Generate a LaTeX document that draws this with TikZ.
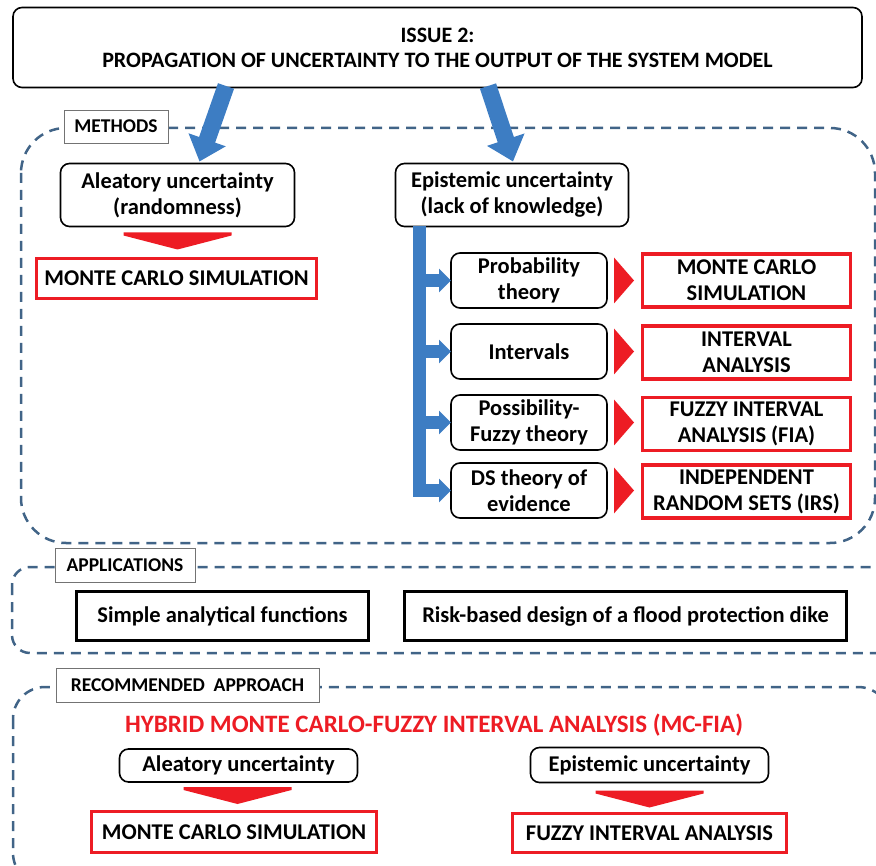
\documentclass[tikz,border=0pt]{standalone}
\usepackage{fontspec}
\setmainfont{Carlito}
\usetikzlibrary{arrows.meta,calc}
\definecolor{bluearr}{RGB}{61,125,195}
\definecolor{dashblue}{RGB}{65,100,135}
\definecolor{mcred}{RGB}{237,28,36}

\begin{document}
\begin{tikzpicture}[x=1pt, y=-1pt, font=\bfseries\fontsize{22.5}{26}\selectfont,
	every node/.style={align=center, inner sep=0pt, outer sep=0pt},
	rbox/.style={draw, rounded corners=9pt, line width=1.6pt, fill=white},
	redbox/.style={draw=mcred, line width=3.5pt, fill=white},
	appbox/.style={draw, line width=3.5pt, fill=white},
	lbl/.style={draw=black!55, line width=0.8pt, fill=white, font=\bfseries\fontsize{19.5}{22}\selectfont},
	dashframe/.style={draw=dashblue, line width=2.5pt, dash pattern=on 10pt off 7pt},
	bigarrow/.style={draw=bluearr, line width=17pt, -{Triangle[length=23pt,width=38pt]}},
	bararrow/.style={draw=bluearr, line width=13pt, line join=miter, -{Triangle[length=12pt,width=23pt]}},
	downtip/.pic={\fill[mcred] (-54,0) -- (54,0) -- (54,3) -- (0,17) -- (-54,3) -- cycle;},
	righttip/.pic={\fill[mcred] (0,-23) -- (20,0) -- (0,23) -- cycle;}]
	
	\useasboundingbox (0,0) rectangle (876,866);
	
	% Frames
	\draw[dashframe, rounded corners=45pt] (21,128) rectangle (875,543);
	\draw[dashframe, rounded corners=18pt] (12,567) rectangle (920,653);
	\draw[dashframe, rounded corners=32pt] (13,687) rectangle (890,885);
	
	% Issue
	\coordinate (aleTail) at (226,86);
	\coordinate (epiTail) at (488,86);
	\node[rbox, minimum width=849, minimum height=80, font=\bfseries\fontsize{22}{25}\selectfont] (title) at (437.5,47.5) {ISSUE 2:\\PROPAGATION OF UNCERTAINTY TO THE OUTPUT OF THE SYSTEM MODEL};
	
	% Methods
	\node[lbl, minimum width=104, minimum height=33] (methods) at (116,126.5) {METHODS};
	\node[rbox, minimum width=234, minimum height=63] (ale) at (177.5,195) {Aleatory uncertainty\\(randomness)};
	\node[rbox, minimum width=233, minimum height=63] (epi) at (512,195) {Epistemic uncertainty\\(lack of knowledge)};
	\draw[bigarrow] (aleTail) -- ($(ale.north)+(22,-2)$);
	\draw[bigarrow] (epiTail) -- ($(epi.north)+(1,-2)$);
	\node[redbox, minimum width=280, minimum height=40] (mc) at (176.5,278.5) {MONTE CARLO SIMULATION};
	\pic at ($(ale.south)+(0,6)$) {downtip};
	
	\node[rbox, minimum width=156, minimum height=55] (m1) at (529,280.5) {Probability\\theory};
	\node[rbox, minimum width=156, minimum height=55] (m2) at (529,351.5) {Intervals};
	\node[rbox, minimum width=156, minimum height=55] (m3) at (529,422.5) {Possibility-\\Fuzzy theory};
	\node[rbox, minimum width=156, minimum height=55] (m4) at (529,490.5) {DS theory of\\evidence};
	\node[redbox, minimum width=208, minimum height=53] (r1) at (746.5,280.5) {MONTE CARLO\\SIMULATION};
	\node[redbox, minimum width=208, minimum height=53] (r2) at (746.5,352.5) {INTERVAL\\ANALYSIS};
	\node[redbox, minimum width=208, minimum height=53] (r3) at (746.5,424) {FUZZY INTERVAL\\ANALYSIS (FIA)};
	\node[redbox, minimum width=208, minimum height=53] (r4) at (746.5,491.5) {INDEPENDENT\\RANDOM SETS (IRS)};
	
	\coordinate (barTop) at ($(epi.south west)+(23.5,0)$);
	\draw[bararrow] (barTop) |- (m4.west);
	\foreach \m in {m1,m2,m3}
		\draw[bararrow] (barTop |- \m.west) -- (\m.west);
	\foreach \m in {m1,m2,m3,m4}
		\pic at ($(\m.east)+(7,0)$) {righttip};
	
	% Applications
	\node[lbl, minimum width=140, minimum height=34] (apps) at (125,565) {APPLICATIONS};
	\node[appbox, minimum width=292, minimum height=49] (simple) at (222.5,616) {Simple analytical functions};
	\node[appbox, minimum width=442, minimum height=49] (dike) at (625.5,616) {Risk-based design of a flood protection dike};
	
	% Recommended approach
	\node[lbl, minimum width=263, minimum height=34] (rec) at (187.5,685) {RECOMMENDED\ \ APPROACH};
	\node[text=mcred, font=\bfseries\fontsize{25}{28}\selectfont] (hybrid) at (434,725) {HYBRID MONTE CARLO-FUZZY INTERVAL ANALYSIS (MC-FIA)};
	\node[rbox, minimum width=238, minimum height=33] (ale2) at (238.5,765.5) {Aleatory uncertainty};
	\node[rbox, minimum width=238, minimum height=35] (epi2) at (649.5,765) {Epistemic uncertainty};
	\node[redbox, minimum width=285, minimum height=41] (mc2) at (234,832) {MONTE CARLO SIMULATION};
	\node[redbox, minimum width=274, minimum height=39] (fia2) at (649.5,833) {FUZZY INTERVAL ANALYSIS};
	\pic at ($(ale2.south)+(-1,5)$) {downtip};
	\pic at ($(epi2.south)+(0,8)$) {downtip};
	
\end{tikzpicture}
\end{document}
